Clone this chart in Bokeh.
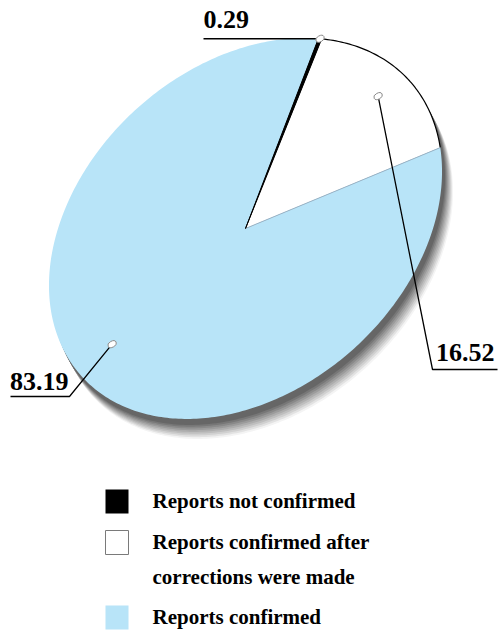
import numpy as np
from bokeh.plotting import figure
from bokeh.models import Range1d
from bokeh.core.properties import value
from bokeh.embed import file_html
from bokeh.resources import INLINE

# ---- data ----
categories = ["Reports not confirmed",
              "Reports confirmed after corrections were made",
              "Reports confirmed"]
legend_lines = [["Reports not confirmed"],
                ["Reports confirmed after", "corrections were made"],
                ["Reports confirmed"]]
shares = [0.29, 16.52, 83.19]
value_labels = ["0.29", "16.52", "83.19"]
colors = ["#000000", "#ffffff", "#b8e4f8"]

# ---- layout / style ----
W, H = 501, 632
CX, CY = 245.0, 228.0
A, B = 220.7, 161.8
TILT = np.deg2rad(42)
START = np.deg2rad(-34.8)
FONT = value("Liberation Serif")

ux, uy = np.cos(TILT), -np.sin(TILT)
vx, vy = np.sin(TILT), np.cos(TILT)


def pt(t, r=1.0, dx=0.0, dy=0.0):
    t = np.asarray(t)
    x = CX + dx + r * (A * np.cos(t) * ux + B * np.sin(t) * vx)
    y = CY + dy + r * (A * np.cos(t) * uy + B * np.sin(t) * vy)
    return x, y


p = figure(width=W, height=H, x_range=Range1d(0, W), y_range=Range1d(H, 0),
           output_backend="svg", toolbar_location=None, min_border=0,
           x_axis_location=None, y_axis_location=None,
           outline_line_color=None, background_fill_color="white",
           border_fill_color="white")
for g in p.grid:
    g.visible = False

# ---- shadow ----
full = np.linspace(0, 2 * np.pi, 361)
n_layers = 9
for k in range(n_layers - 1, -1, -1):
    f = k / (n_layers - 1)
    dx = 3 + 8 * f
    dy = 6 + 14 * f
    level = int(0x66 + (0xf4 - 0x66) * f)
    col = "#%02x%02x%02x" % (level, level, level)
    sx, sy = pt(full, 1.0, dx, dy)
    p.patch(list(sx), list(sy), fill_color=col, line_color=None)

# ---- slices ----
fr = np.array(shares) / np.sum(shares)
bounds = START + np.concatenate([[0], np.cumsum(fr)]) * 2 * np.pi
order = [2, 1, 0]
for i in order:
    t = np.linspace(bounds[i], bounds[i + 1], max(3, int(fr[i] * 400)))
    ax, ay = pt(t)
    xs = [CX] + list(ax) + [CX]
    ys = [CY] + list(ay) + [CY]
    if i == 0:
        p.patch(xs, ys, fill_color=colors[i], line_color="black", line_width=1)
    else:
        p.patch(xs, ys, fill_color=colors[i], line_color=None)
    if i == 1:
        p.line(list(ax), list(ay), line_color="black", line_width=1.2)
        ex, ey = pt(bounds[i + 1])
        p.line([CX, float(ex)], [CY, float(ey)], line_color="#98b4c8", line_width=1)

# ---- labels with leader lines ----
anchor_frac = [0.5, 0.5, 0.52]
anchor_r = [1.0, 0.85, 0.80]
elbows = [[(203, None)], [(432, 369), (497, 369)], [(69, 396), (10, 396)]]
text_pos = [(203, 19, "left"), (494, 352, "right"), (68, 381, "right")]

for i in range(3):
    ta = bounds[i] + anchor_frac[i] * (bounds[i + 1] - bounds[i])
    mx, my = pt(ta, anchor_r[i])
    mx, my = float(mx), float(my)
    lx, ly = [mx], [my]
    for ex, ey in elbows[i]:
        lx.append(ex)
        ly.append(my if ey is None else ey)
    p.line(lx, ly, line_color="black", line_width=1.3)
    p.ellipse(x=[mx], y=[my], width=9, height=6, angle=0.5,
              fill_color="white", line_color="#8a8a8a", line_width=1)
    tx, tyy, al = text_pos[i]
    p.text(x=[tx], y=[tyy], text=[value_labels[i]], text_font=FONT,
           text_font_style="bold", text_font_size="26px", text_align=al,
           text_baseline="middle", text_color="black")

# ---- legend ----
box_left, box_right = 105, 128
row_tops = [489, 530, 605]
text_x = 152
line_gap = 35
for i in range(3):
    top = row_tops[i]
    p.quad(left=[box_left], right=[box_right], top=[top], bottom=[top + 24],
           fill_color=colors[i],
           line_color="#7a7a7a" if i == 1 else None, line_width=1)
    for j, s in enumerate(legend_lines[i]):
        p.text(x=[text_x], y=[top + 11 + j * line_gap], text=[s], text_font=FONT,
               text_font_style="bold", text_font_size="21px", text_align="left",
               text_baseline="middle", text_color="black")

open("out.html", "w").write(file_html(p, INLINE))
